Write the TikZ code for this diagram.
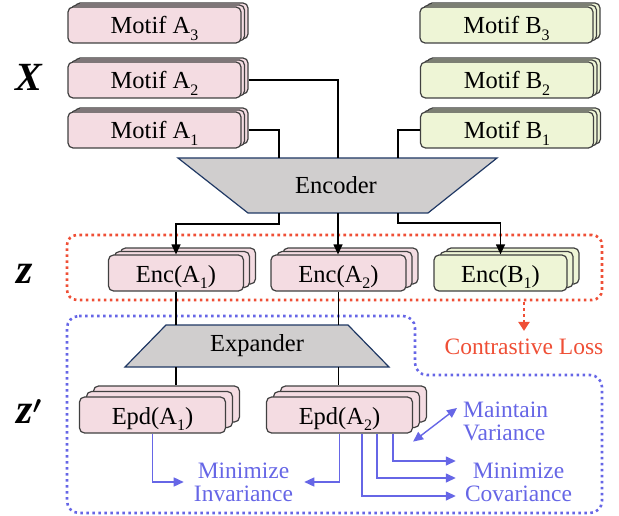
\documentclass[tikz,border=0pt]{standalone}
\usepackage{fontspec}
\setmainfont{Liberation Serif}
\usepackage{bm}
\usetikzlibrary{arrows.meta,shadows,calc}
\definecolor{pinkf}{HTML}{F4DCE2}
\definecolor{greenf}{HTML}{EEF5D6}
\definecolor{boxd}{HTML}{404040}
\definecolor{grayf}{HTML}{D0CECE}
\definecolor{navy}{HTML}{1F3864}
\definecolor{redd}{HTML}{EF4F36}
\definecolor{bluel}{HTML}{6666E6}
\newcommand\mysub[1]{\raisebox{-6.5pt}{\fontsize{16}{16}\selectfont #1}}
\tikzset{
  txt/.style={font=\fontsize{23.5}{25}\selectfont},
  boxtxt/.style={font=\fontsize{24.5}{26}\selectfont},
  basebox/.style={boxtxt, draw=boxd, line width=1.2pt, rounded corners=5pt, minimum height=36pt, inner sep=0pt, text height=18pt, text depth=0pt},
  twoshadows/.style n args={5}{
    general shadow={fill=#1, draw=boxd, line width=1.2pt, shadow xshift=#4, shadow yshift=#5},
    general shadow={fill=#1, draw=boxd, line width=1.2pt, shadow xshift=#2, shadow yshift=#3}},
  motifA/.style={basebox, fill=pinkf, minimum width=173pt, twoshadows={pinkf}{3.5pt}{2pt}{7pt}{4pt}},
  motifB/.style={basebox, fill=greenf, minimum width=173pt, twoshadows={greenf}{3.5pt}{2pt}{7pt}{4pt}},
  encA/.style={basebox, fill=pinkf, minimum width=135pt, twoshadows={pinkf}{6pt}{3.5pt}{12pt}{7pt}},
  encB/.style={basebox, fill=greenf, minimum width=133pt, twoshadows={greenf}{6pt}{3.5pt}{12pt}{7pt}},
  epdA/.style={basebox, fill=pinkf, minimum width=146pt, twoshadows={pinkf}{7pt}{5.5pt}{14pt}{11pt}},
  conn/.style={draw=black, line width=1.2pt},
  arr/.style={conn, -{Triangle[length=10pt,width=9pt]}},
  barr/.style={draw=bluel, line width=1.4pt, -{Triangle[length=10pt,width=9pt]}},
  dbarr/.style={draw=bluel, line width=1.4pt, {Triangle[length=10pt,width=9pt]}-{Triangle[length=10pt,width=9pt]}},
  reddot/.style={draw=redd, line width=2.6pt, dash pattern=on 2.6pt off 3.4pt},
  bluedot/.style={draw=bluel, line width=2.6pt, dash pattern=on 2.6pt off 3.4pt},
  trap/.style={fill=grayf, draw=navy, line width=1.2pt},
  bluetxt/.style={txt, text=bluel, inner sep=0pt, align=center},
  biglabel/.style={inner sep=0pt, anchor=base west}
}
\begin{document}
\begin{tikzpicture}[x=1pt,y=-1pt]
\useasboundingbox (0,0) rectangle (619,516);

% dotted regions
\node[reddot, rounded corners=10pt, minimum width=535pt, minimum height=65pt, inner sep=0pt] (rbox) at (334.5,267.5) {};
\draw[bluedot, rounded corners=12pt] (67,316) -- (415,316) -- (415,375) -- (602,375) -- (602,513) -- (67,513) -- cycle;

% side labels
\node[biglabel, font=\fontsize{40}{42}\selectfont\bfseries\itshape] (lx) at (15,91) {X};
\node[biglabel, font=\fontsize{42}{44}\selectfont\bfseries\itshape] (lz) at (16,283) {z};
\node[biglabel, font=\fontsize{42}{44}\selectfont\bfseries\itshape] (lzp) at (16,423) {z$^{\bm{\prime}}$};

% motif boxes
\node[motifA] (a3) at (154.5,25) {Motif A\mysub{3}};
\node[motifA] (a2) at (154.5,80) {Motif A\mysub{2}};
\node[motifA] (a1) at (154.5,130) {Motif A\mysub{1}};
\node[motifB] (b3) at (506.5,25) {Motif B\mysub{3}};
\node[motifB] (b2) at (507,80) {Motif B\mysub{2}};
\node[motifB] (b1) at (507,130) {Motif B\mysub{1}};

% encoder
\path[trap] (178,158) -- (497,158) -- (428,213) -- (248,213) -- cycle;
\node[boxtxt, inner sep=0pt] (enc) at (336,185) {Encoder};
\coordinate (encT1) at (279,158);
\coordinate (encT2) at (338,158);
\coordinate (encT3) at (398,158);
\coordinate (encB1) at (279,213);
\coordinate (encB2) at (338,213);
\coordinate (encB3) at (398,213);

% enc boxes
\node[encA] (ea1) at (176,273) {Enc(A\mysub{1})};
\node[encA] (ea2) at (338.5,273) {Enc(A\mysub{2})};
\node[encB] (eb1) at (500.5,273) {Enc(B\mysub{1})};

% input connectors
\draw[conn] ([xshift=7pt]a2.east) -| (encT2);
\draw[conn] ([xshift=7pt]a1.east) -| (encT1);
\draw[conn] (b1.west) -| (encT3);
\draw[arr] (encB1) -- ++(0,11) -| (ea1.north);
\draw[arr] (encB2) -- (encB2 |- ea2.north);
\draw[arr] (encB3) -- ++(0,10) -| (eb1.north);

% expander
\path[trap] (166,325) -- (348,325) -- (389,367) -- (125,367) -- cycle;
\node[boxtxt, inner sep=0pt] (exp) at (257,346) {Expander};
\coordinate (expT1) at (176,325);
\coordinate (expT2) at (338.5,325);
\coordinate (expB1) at (176,367);
\coordinate (expB2) at (338.5,367);
\draw[conn] (ea1.south) -- (expT1);
\draw[conn] (ea2.south) -- (expT2);

% epd boxes
\node[epdA] (pa1) at (152.5,415) {Epd(A\mysub{1})};
\node[epdA] (pa2) at (339.5,415) {Epd(A\mysub{2})};
\coordinate (pa1top) at ([yshift=11pt]pa1.north);
\coordinate (pa2top) at ([yshift=11pt]pa2.north);
\draw[conn] (expB1) -- (expB1 |- pa1top);
\draw[conn] (expB2) -- (expB2 |- pa2top);

% contrastive loss
\node[txt, text=redd, inner sep=0pt] (cl) at (524,347) {Contrastive Loss};
\draw[reddot, -{Triangle[length=9pt,width=11pt,sep=0pt]}] (rbox.south -| cl.north) ++(0,1) -- ([yshift=8pt]cl.north);

% blue texts
\node[bluetxt] (mi) at (243.5,482) {Minimize\\[-2pt]Invariance};
\node[bluetxt, anchor=west, align=left] (mv) at (463,421) {Maintain\\[-2pt]Variance};
\node[bluetxt] (mc) at (518.5,482) {Minimize\\[-2pt]Covariance};

% blue arrows
\draw[barr] (pa1.south) |- ([xshift=-10pt]mi.west);
\draw[barr] (pa2.south) |- ([xshift=11pt]mi.east);
\draw[dbarr] ($(pa2.south east)+(0,8)$) -- ($(mv.west)+(-6,-13)$);
\draw[barr] ($(pa2.south)+(53.5,0)$) |- ($(mc.west)+(-9,-21)$);
\draw[barr] ($(pa2.south)+(37.5,0)$) |- ($(mc.west)+(-9,-4)$);
\draw[barr] ($(pa2.south)+(22.5,0)$) |- ($(mc.west)+(-9,14)$);
\end{tikzpicture}
\end{document}
